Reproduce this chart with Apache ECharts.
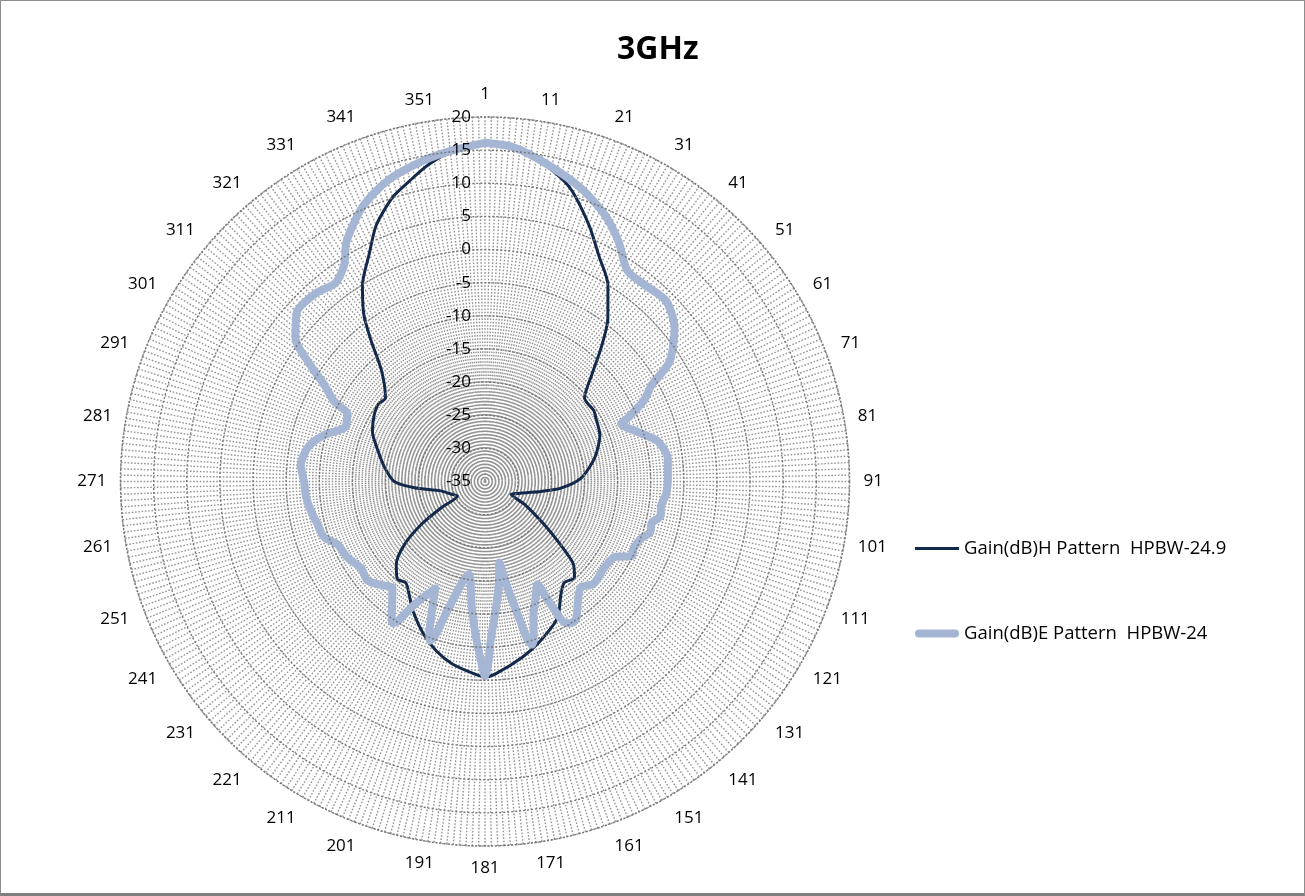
<!DOCTYPE html>
<html>
<head>
<meta charset="utf-8">
<script src="https://cdn.jsdelivr.net/npm/echarts@6/dist/echarts.min.js"></script>
<style>
html,body{margin:0;padding:0;background:#fff;}
#chart{width:1305px;height:896px;box-sizing:border-box;border:1px solid #8c8c8c;border-bottom:3px solid #7f7f7f;}
</style>
</head>
<body>
<div id="chart"></div>
<script>
// angle positions are the sheet's row numbers (1..360, 361 closes the loop at 1)
var hAngle = [1,6,11,17,23,28,33,38,42,46,51,58,61,69,79,89,96,101,106,111,117,121,127,131,134,138,143,147,153,162,169,178,181,184,191,197,203,210,215,219,223,228,233,237,240,243,251,259,266,271,279,287,295,302,307,311,318,322,325,329,334,338,343,347,351,356,361];
var hGain = [16.2,15.6,14.0,11.2,6.8,3.0,0.0,-4.2,-8.3,-12.2,-15.4,-15.4,-15.7,-16.3,-18.1,-20.5,-23.5,-26.4,-28.5,-29.7,-30.6,-28.1,-24.0,-20.1,-16.8,-15.2,-15.6,-14.5,-11.7,-9.5,-7.9,-5.9,-5.5,-5.9,-7.0,-8.4,-10.2,-12.6,-14.5,-15.6,-15.2,-16.7,-19.6,-23.4,-27.3,-30.3,-29.5,-28.2,-24.3,-21.3,-19.7,-18.2,-16.4,-15.5,-15.1,-15.4,-12.1,-7.7,-3.9,-0.1,3.5,7.0,10.1,11.8,13.6,15.3,16.2];

var eAngle = [1,6,12,19,25,30,35,40,46,52,58,61,64,67,68,73,78,84,90,95,99,102,105,108,111,115,118,121,127,134,139,143,147,149,151,153,154,157,161,164,165,166,167,169,171,173,176,179,180,181,182,184,187,191,197,199,200,201,203,206,211,213,214,215,218,222,226,231,236,242,248,252,257,261,266,271,276,282,287,292,297,299,302,305,308,313,319,324,328,331,337,343,350,356,361];
var eGain = [16.1,15.6,13.8,11.6,9.2,6.5,3.4,3.2,3.6,1.8,-1.8,-6.0,-8.1,-11.4,-12.7,-10.8,-8.2,-7.2,-7.4,-7.6,-8.2,-8.0,-9.1,-8.9,-9.9,-10.4,-10.2,-12.3,-12.8,-12.5,-13.4,-12.2,-10.3,-9.9,-10.3,-14.6,-17.6,-16.1,-13.6,-9.9,-9.4,-10.4,-13.9,-18.6,-22.6,-19.8,-15.9,-10.9,-7.4,-5.6,-7.4,-10.9,-15.9,-20.8,-15.2,-10.4,-9.6,-10.4,-13.5,-17.2,-13.4,-10.2,-9.5,-9.8,-11.7,-13.7,-12.9,-11.8,-12.2,-11.3,-10.8,-9.3,-8.9,-8.4,-7.9,-7.7,-7.1,-7.8,-9.7,-12.3,-11.9,-9.2,-6.7,-2.9,0.8,3.2,3.2,2.5,4.0,6.8,10.4,12.7,14.3,15.3,16.1];

var seriesNames = ['Gain(dB)H Pattern  HPBW-24.9', 'Gain(dB)E Pattern  HPBW-24'];
var hColor = '#13294b';
var eColor = '#a5b6d5';

function pairs(gain, ang){
  var out = [];
  for (var i = 0; i < gain.length; i++) out.push([gain[i], ang[i]]);
  return out;
}

var font = '"Open Sans", "Liberation Sans", sans-serif';
var gridDots = {color: '#949494', width: 1.4, type: [1.6, 1.7]};

var chart = echarts.init(document.getElementById('chart'));
chart.setOption({
  animation: false,
  title: {
    text: '3GHz',
    left: 616, top: 33, padding: 0,
    textStyle: {fontFamily: font, fontSize: 32, fontWeight: 'bold', color: '#000'}
  },
  legend: [
    {
      left: 914, top: 538, padding: 0,
      icon: 'rect', itemWidth: 44, itemHeight: 3,
      data: [seriesNames[0]],
      textStyle: {fontFamily: font, fontSize: 18.5, color: '#000'}
    },
    {
      left: 914, top: 623, padding: 0,
      icon: 'path://M4 0H40A4 4 0 0 1 40 8H4A4 4 0 0 1 4 0Z', itemWidth: 44, itemHeight: 8,
      data: [seriesNames[1]],
      textStyle: {fontFamily: font, fontSize: 18.5, color: '#000'}
    }
  ],
  polar: {center: [484, 480.5], radius: 364.5},
  angleAxis: {
    type: 'value', min: 1, max: 361, interval: 1,
    startAngle: 90, clockwise: true,
    axisLine: {show: true, lineStyle: gridDots},
    axisTick: {show: false},
    axisLabel: {
      margin: 14, fontFamily: font, fontSize: 17, color: '#000',
      formatter: function (v) { return ((v - 1) % 10 === 0 && v < 361) ? String(v) : ''; }
    },
    splitLine: {show: true, lineStyle: gridDots}
  },
  radiusAxis: {
    type: 'value', min: -35, max: 20, interval: 5,
    axisLine: {show: false},
    axisTick: {show: false},
    axisLabel: {margin: 14, fontFamily: font, fontSize: 17, color: '#000'},
    splitLine: {show: true, lineStyle: {color: '#777', width: 1.4, type: [2, 2]}},
    z: 10
  },
  series: [
    {
      name: seriesNames[0], type: 'line', coordinateSystem: 'polar',
      data: pairs(hGain, hAngle), symbol: 'none', smooth: 0.25,
      lineStyle: {color: hColor, width: 3, join: 'round'},
      itemStyle: {color: hColor}
    },
    {
      name: seriesNames[1], type: 'line', coordinateSystem: 'polar',
      data: pairs(eGain, eAngle), symbol: 'none', smooth: 0.25,
      lineStyle: {color: eColor, width: 8, join: 'round', cap: 'round'},
      itemStyle: {color: eColor}
    }
  ]
});
</script>
</body>
</html>
